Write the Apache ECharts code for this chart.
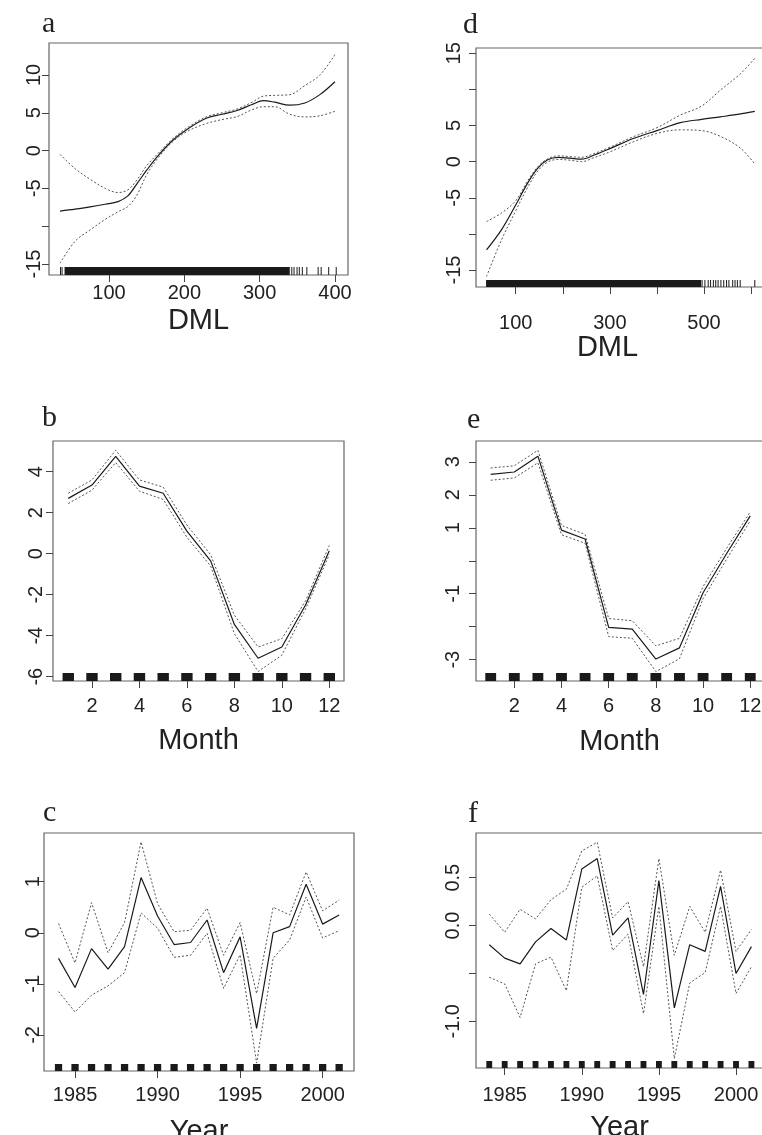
<!DOCTYPE html>
<html>
<head>
<meta charset="utf-8">
<script src="https://cdn.jsdelivr.net/npm/echarts@6/dist/echarts.min.js"></script>
<style>
  html, body { margin: 0; padding: 0; background: #fff; }
  #main { width: 762px; height: 1135px; }
</style>
</head>
<body>
<div id="main"></div>
<script>
// panel a / d : DML smooths (fit, upper and lower band)
var dmlA = [35, 55, 75, 95, 112, 125, 137, 150, 165, 185, 205, 230, 250, 270, 290, 305, 320, 340, 360, 380, 400];
var fitA = [-8.0, -7.75, -7.45, -7.1, -6.75, -6.0, -4.4, -2.6, -0.7, 1.4, 2.9, 4.3, 4.8, 5.3, 6.1, 6.6, 6.4, 6.0, 6.3, 7.4, 9.1];
var upA  = [-0.5, -2.4, -3.8, -5.0, -5.55, -5.2, -3.9, -2.0, -0.4, 1.6, 3.1, 4.5, 5.0, 5.5, 6.4, 7.2, 7.3, 7.4, 8.6, 10.0, 12.7];
var loA  = [-14.9, -12.0, -10.5, -9.1, -8.1, -7.4, -5.9, -3.2, -1.0, 1.2, 2.6, 3.6, 4.1, 4.5, 5.4, 5.8, 5.8, 4.8, 4.45, 4.6, 5.2];
var rugDenseA = [[41, 340]];
var rugTicksA = [35, 37, 342, 345, 349, 352, 356, 362, 377, 381, 391, 401];

var dmlD = [38, 70, 100, 125, 147, 168, 190, 215, 240, 268, 300, 350, 400, 450, 495, 535, 578, 608];
var fitD = [-12.2, -9.4, -6.0, -3.0, -0.9, 0.25, 0.6, 0.48, 0.35, 0.95, 1.8, 3.2, 4.3, 5.4, 5.85, 6.2, 6.6, 6.95];
var upD  = [-8.3, -7.1, -5.4, -2.7, -0.7, 0.4, 0.8, 0.7, 0.6, 1.15, 2.0, 3.45, 4.7, 6.45, 7.7, 9.9, 12.2, 14.3];
var loD  = [-15.9, -10.8, -6.8, -3.6, -1.3, -0.05, 0.3, 0.2, 0.0, 0.6, 1.35, 2.75, 3.9, 4.4, 4.3, 3.5, 1.85, -0.33];
var rugDenseD = [[37, 494]];
var rugTicksD = [495, 501, 508, 513, 519, 524, 529, 535, 541, 547, 552, 560, 565, 570, 576, 607];

// panel b / e : Month
var months = [1, 2, 3, 4, 5, 6, 7, 8, 9, 10, 11, 12];
var fitB = [2.7, 3.35, 4.75, 3.3, 2.95, 1.1, -0.35, -3.45, -5.1, -4.55, -2.5, 0.15];
var upB  = [2.95, 3.6, 5.05, 3.6, 3.25, 1.4, -0.05, -3.0, -4.55, -4.15, -2.3, 0.4];
var loB  = [2.45, 3.1, 4.45, 3.05, 2.65, 0.8, -0.6, -3.9, -5.75, -4.95, -2.7, -0.05];
var fitE = [2.62, 2.69, 3.17, 0.93, 0.66, -2.02, -2.07, -2.98, -2.64, -0.97, 0.22, 1.36];
var upE  = [2.81, 2.88, 3.35, 1.07, 0.8, -1.75, -1.82, -2.58, -2.35, -0.78, 0.38, 1.48];
var loE  = [2.44, 2.51, 2.97, 0.79, 0.53, -2.3, -2.35, -3.36, -2.97, -1.15, 0.05, 1.21];

// panel c / f : Year
var years = [1984, 1985, 1986, 1987, 1988, 1989, 1990, 1991, 1992, 1993, 1994, 1995, 1996, 1997, 1998, 1999, 2000, 2001];
var fitC = [-0.5, -1.07, -0.31, -0.71, -0.27, 1.08, 0.33, -0.23, -0.19, 0.25, -0.78, -0.08, -1.87, 0.0, 0.12, 0.95, 0.17, 0.35];
var upC  = [0.18, -0.59, 0.59, -0.39, 0.2, 1.78, 0.57, 0.02, 0.05, 0.48, -0.44, 0.2, -1.19, 0.5, 0.35, 1.19, 0.43, 0.64];
var loC  = [-1.15, -1.55, -1.22, -1.04, -0.78, 0.39, 0.09, -0.48, -0.44, -0.01, -1.09, -0.43, -2.55, -0.5, -0.14, 0.7, -0.1, 0.04];
var fitF = [-0.2, -0.34, -0.4, -0.17, -0.03, -0.15, 0.59, 0.7, -0.1, 0.08, -0.72, 0.47, -0.86, -0.2, -0.27, 0.41, -0.5, -0.22];
var upF  = [0.12, -0.07, 0.17, 0.07, 0.27, 0.38, 0.78, 0.87, 0.08, 0.25, -0.43, 0.7, -0.31, 0.2, -0.07, 0.58, -0.27, -0.04];
var loF  = [-0.54, -0.61, -0.96, -0.4, -0.33, -0.68, 0.4, 0.52, -0.26, -0.09, -0.92, 0.2, -1.39, -0.6, -0.49, 0.2, -0.71, -0.43];

// tick positions and the labels R kept
var xTicksA = [100, 200, 300, 400];
var yTicksA = [-15, -10, -5, 0, 5, 10];
var yLabelsA = [-15, -5, 0, 5, 10];
var xTicksD = [100, 200, 300, 400, 500, 600];
var xLabelsD = [100, 300, 500];
var yTicksD = [-15, -10, -5, 0, 5, 10, 15];
var yLabelsD = [-15, -5, 0, 5, 15];
var xTicksMonth = [2, 4, 6, 8, 10, 12];
var yTicksB = [-6, -4, -2, 0, 2, 4];
var yTicksE = [-3, -2, -1, 0, 1, 2, 3];
var yLabelsE = [-3, -1, 1, 2, 3];
var xTicksYear = [1985, 1990, 1995, 2000];
var yTicksC = [-2, -1, 0, 1];
var yTicksF = [-1, -0.5, 0, 0.5];
var yLabelsF = [-1, 0, 0.5];

var FONT = 'Liberation Sans';
var INK = '#1a1a1a';

function pairs(xs, ys) {
    return xs.map(function (x, i) { return [x, ys[i]]; });
}

function spans(xs, half) {
    return xs.map(function (x) { return [x - half, x + half]; });
}

function xAxisCfg(i, min, max, ticks, labels, name, margin, nameGap, fmt, namePad) {
    return {
        type: 'value', gridIndex: i, min: min, max: max,
        name: name, nameLocation: 'middle', nameGap: nameGap,
        nameTextStyle: { fontFamily: FONT, fontSize: 29, color: '#222', padding: namePad || 0 },
        axisLine: { show: false, onZero: false },
        splitLine: { show: false },
        axisTick: { show: true, length: 7, customValues: ticks, lineStyle: { color: '#444' } },
        axisLabel: {
            customValues: labels, margin: margin, fontFamily: FONT, fontSize: 20, color: '#222',
            formatter: fmt || function (v) { return String(v); }
        }
    };
}

function yAxisCfg(i, min, max, ticks, labels, margin, fmt) {
    return {
        type: 'value', gridIndex: i, min: min, max: max,
        axisLine: { show: false, onZero: false },
        splitLine: { show: false },
        axisTick: { show: true, length: 7, customValues: ticks, lineStyle: { color: '#444' } },
        axisLabel: {
            customValues: labels, rotate: 90, margin: margin, fontFamily: FONT, fontSize: 20, color: '#222',
            formatter: fmt || function (v) { return String(v); }
        }
    };
}

function curve(i, data, dotted, smooth) {
    return {
        type: 'line', xAxisIndex: i, yAxisIndex: i, data: data,
        symbol: 'none', smooth: smooth ? 0.35 : false, silent: true,
        lineStyle: dotted
            ? { color: '#555', width: 1, type: [2, 2] }
            : { color: INK, width: 1.2 }
    };
}

// rug marks sit on the bottom edge of the plot box
function rug(i, data, h) {
    return {
        type: 'custom', xAxisIndex: i, yAxisIndex: i, data: data, silent: true,
        encode: { x: [0, 1] },
        renderItem: function (params, api) {
            var x0 = api.coord([api.value(0), 0])[0];
            var x1 = api.coord([api.value(1), 0])[0];
            var cs = params.coordSys;
            var bottom = cs.y + cs.height;
            return {
                type: 'rect',
                shape: { x: x0, y: bottom - h, width: Math.max(x1 - x0, 1), height: h },
                style: { fill: INK }
            };
        }
    };
}

function ticksAsSpans(xs) {
    return xs.map(function (x) { return [x, x]; });
}

function panelTitle(text, left, top) {
    return {
        text: text, left: left, top: top, padding: 0,
        textStyle: { fontFamily: 'Liberation Serif', fontSize: 30, fontWeight: 'normal', color: '#222' }
    };
}

var myChart = echarts.init(document.getElementById('main'), null, { renderer: 'canvas' });

// fixed plot boxes; labels may run off the page as in the scan
var boxStyle = {
    show: true, borderColor: '#666', borderWidth: 1.2, backgroundColor: 'transparent',
    containLabel: false, outerBoundsMode: 'none'
};

option = {
    animation: false,
    backgroundColor: '#fff',
    title: [
        panelTitle('a', 42, 9),
        panelTitle('d', 463, 10),
        panelTitle('b', 42, 403),
        panelTitle('e', 467, 405),
        panelTitle('c', 43, 798),
        panelTitle('f', 468, 799)
    ],
    grid: [
        Object.assign({ left: 49, top: 43, width: 299, height: 232 }, boxStyle),
        Object.assign({ left: 476, top: 48, width: 287, height: 239 }, boxStyle),
        Object.assign({ left: 53, top: 441, width: 291, height: 240 }, boxStyle),
        Object.assign({ left: 476, top: 441, width: 287, height: 240 }, boxStyle),
        Object.assign({ left: 44, top: 833, width: 310, height: 238 }, boxStyle),
        Object.assign({ left: 476, top: 833, width: 287, height: 235 }, boxStyle)
    ],
    xAxis: [
        xAxisCfg(0, 20.35, 417.3, xTicksA, xTicksA, 'DML', 8, 31),
        xAxisCfg(1, 15.6, 625.5, xTicksD, xLabelsD, 'DML', 26, 46, null, [0, 24, 0, 0]),
        xAxisCfg(2, 0.357, 12.62, xTicksMonth, xTicksMonth, 'Month', 15, 45),
        xAxisCfg(3, 0.377, 12.54, xTicksMonth, xTicksMonth, 'Month', 15, 46),
        xAxisCfg(4, 1983.12, 2001.9, xTicksYear, xTicksYear, 'Year', 14, 46),
        xAxisCfg(5, 1983.14, 2001.75, xTicksYear, xTicksYear, 'Year', 17, 45)
    ],
    yAxis: [
        yAxisCfg(0, -16.46, 14.23, yTicksA, yLabelsA, 5),
        yAxisCfg(1, -17.35, 15.73, yTicksD, yLabelsD, 12),
        yAxisCfg(2, -6.21, 5.5, yTicksB, yTicksB, 7),
        yAxisCfg(3, -3.645, 3.63, yTicksE, yLabelsE, 13),
        yAxisCfg(4, -2.705, 1.953, yTicksC, yTicksC, 1),
        yAxisCfg(5, -1.488, 0.967, yTicksF, yLabelsF, 13, function (v) { return v.toFixed(1); })
    ],
    series: [
        curve(0, pairs(dmlA, upA), true, true),
        curve(0, pairs(dmlA, loA), true, true),
        curve(0, pairs(dmlA, fitA), false, true),
        rug(0, rugDenseA.concat(ticksAsSpans(rugTicksA)), 8),

        curve(1, pairs(dmlD, upD), true, true),
        curve(1, pairs(dmlD, loD), true, true),
        curve(1, pairs(dmlD, fitD), false, true),
        rug(1, rugDenseD.concat(ticksAsSpans(rugTicksD)), 7),

        curve(2, pairs(months, upB), true),
        curve(2, pairs(months, loB), true),
        curve(2, pairs(months, fitB), false),
        rug(2, spans(months, 0.24), 8),

        curve(3, pairs(months, upE), true),
        curve(3, pairs(months, loE), true),
        curve(3, pairs(months, fitE), false),
        rug(3, spans(months, 0.23), 8),

        curve(4, pairs(years, upC), true),
        curve(4, pairs(years, loC), true),
        curve(4, pairs(years, fitC), false),
        rug(4, spans(years, 0.22), 7),

        curve(5, pairs(years, upF), true),
        curve(5, pairs(years, loF), true),
        curve(5, pairs(years, fitF), false),
        rug(5, spans(years, 0.19), 7)
    ]
};

myChart.setOption(option);
</script>
</body>
</html>
